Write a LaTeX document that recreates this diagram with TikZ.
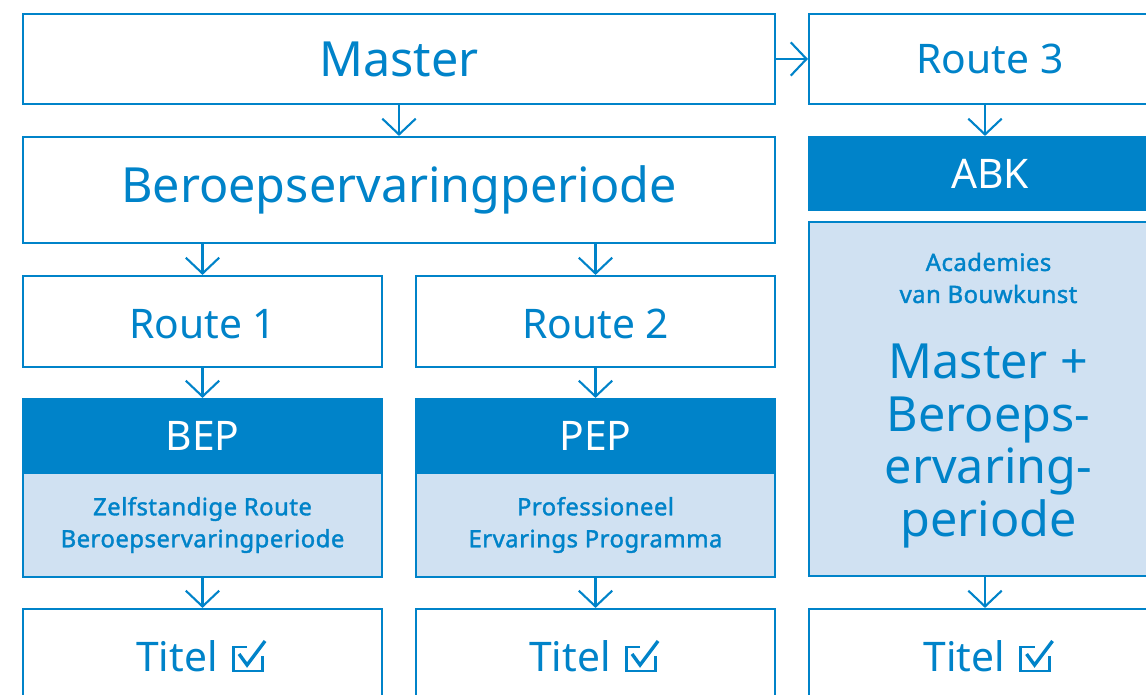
\documentclass[tikz,border=0pt]{standalone}
\usepackage{fontspec}
\setmainfont{Noto Sans}
\newfontfamily\nsbold{Noto Sans}[FakeBold=1.6,LetterSpace=2]
\usetikzlibrary{arrows.meta}
\definecolor{kblue}{RGB}{0,131,201}
\definecolor{klight}{RGB}{208,225,242}
\begin{document}
\begin{tikzpicture}[x=0.02cm,y=-0.02cm,
  box/.style={draw=kblue,line width=1.2pt,fill=white,text=kblue,inner sep=0pt,anchor=center},
  dark/.style={box,fill=kblue,text=white},
  light/.style={box,fill=klight},
  huge/.style={font=\fontsize{27.6}{30}\selectfont},
  mid/.style={font=\fontsize{23.2}{26}\selectfont},
  small/.style={font=\nsbold\fontsize{13.6}{18.2}\selectfont,text=kblue,align=center,inner sep=0pt},
  arr/.style={draw=kblue,line width=1.2pt,-{Straight Barb[length=9pt,width=19pt,line width=1.2pt]}},
  chk/.pic={
    \draw[kblue,line width=1.7pt] (14,-24) -- (0,-24) -- (0,0) -- (29,0) -- (29,-15);
    \draw[kblue,line width=1.9pt] (6,-17) -- (14,-6) -- (32,-30);
  }]
\useasboundingbox (0,0) rectangle (1146,695);
\clip (0,0) rectangle (1146,695);
% top row
\node[box,huge,minimum width=15.04cm,minimum height=1.8cm] (master) at (399,59) {Master};
\node[box,mid,minimum width=7.24cm,minimum height=1.8cm] (route3) at (990,59) {Route 3};
\node[box,huge,minimum width=15.04cm,minimum height=2.12cm] (beroep) at (399,190) {Beroepservaringperiode};
% routes
\node[box,mid,minimum width=7.18cm,minimum height=1.82cm,text depth=0pt,text height=0.68cm] (route1) at (202.5,321.5) {Route 1};
\node[box,mid,minimum width=7.18cm,minimum height=1.82cm,text depth=0pt,text height=0.68cm] (route2) at (595.5,321.5) {Route 2};
% BEP / PEP
\node[dark,mid,minimum width=7.18cm,minimum height=1.48cm] (bep) at (202.5,436) {BEP};
\node[light,minimum width=7.18cm,minimum height=2.08cm] (bepl) at (202.5,525) {};
\node[small] (beptxt) at (202.5,525) {Zelfstandige Route\\Beroepservaringperiode};
\node[dark,mid,minimum width=7.18cm,minimum height=1.48cm] (pep) at (595.5,436) {PEP};
\node[light,minimum width=7.18cm,minimum height=2.08cm] (pepl) at (595.5,525) {};
\node[small] (peptxt) at (595.5,525) {Professioneel\\Ervarings Programma};
% ABK
\node[dark,mid,minimum width=7.24cm,minimum height=1.46cm] (abk) at (990,173.5) {ABK};
\node[light,minimum width=7.24cm,minimum height=7.08cm] (abkl) at (990,399) {};
\node[small] (abktxt) at (988.5,278) {Academies\\van Bouwkunst};
\node[huge,text=kblue,align=center,inner sep=0pt] (abkbig) at (988.5,446) {Master +\\Beroeps-\\ervaring-\\periode};
% Titel boxes
\node[box,minimum width=7.18cm,minimum height=2.0cm] (titel1) at (202.5,659) {};
\node[box,minimum width=7.18cm,minimum height=2.0cm] (titel2) at (595.5,659) {};
\node[box,minimum width=7.24cm,minimum height=2.0cm] (titel3) at (990,659) {};
\node[mid,text=kblue,inner sep=0pt,anchor=base] (t1) at (177,671) {Titel};
\node[mid,text=kblue,inner sep=0pt,anchor=base] (t2) at (570,671) {Titel};
\node[mid,text=kblue,inner sep=0pt,anchor=base] (t3) at (964.5,671) {Titel};
\pic at ([xshift=0.3cm]t1.base east) {chk};
\pic at ([xshift=0.3cm]t2.base east) {chk};
\pic at ([xshift=0.3cm]t3.base east) {chk};
% arrows
\draw[arr] (master.east) -- (route3.west);
\draw[arr] (master.south) -- (beroep.north);
\draw[arr] (route1.north |- beroep.south) -- (route1.north);
\draw[arr] (route2.north |- beroep.south) -- (route2.north);
\draw[arr] (route1.south) -- (bep.north);
\draw[arr] (route2.south) -- (pep.north);
\draw[arr] (bepl.south) -- (titel1.north);
\draw[arr] (pepl.south) -- (titel2.north);
\draw[arr] ([xshift=-0.1cm]route3.south) -- ([xshift=-0.1cm]abk.north);
\draw[arr] ([xshift=-0.1cm]abkl.south) -- ([xshift=-0.1cm]titel3.north);
\end{tikzpicture}
\end{document}
